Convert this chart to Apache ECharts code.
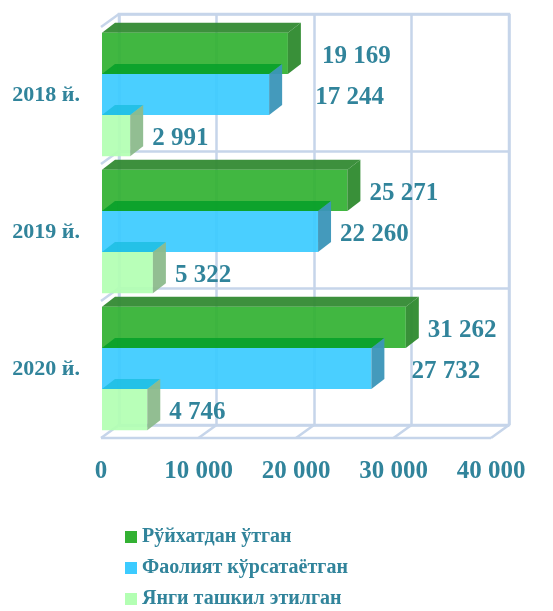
<!DOCTYPE html>
<html>
<head>
<meta charset="utf-8">
<script src="https://cdn.jsdelivr.net/npm/echarts@6/dist/echarts.min.js"></script>
<style>
  html, body { margin: 0; padding: 0; background: #fff; }
  #chart { width: 553px; height: 611px; }
</style>
</head>
<body>
<div id="chart"></div>
<script>
// chart data
var categories = ["2018 й.", "2019 й.", "2020 й."];
var seriesNames = ["Рўйхатдан ўтган", "Фаолият кўрсатаётган", "Янги ташкил этилган"];
var registered = [19169, 25271, 31262];
var active = [17244, 22260, 27732];
var newlyCreated = [2991, 5322, 4746];
var xTicks = [0, 10000, 20000, 30000, 40000];

// look
var FONT = "Liberation Serif";
var TEXT = "#31849b";
var GRIDLINE = "#c6d5ea";
var DX = 18, DY = 13;          // depth of the floor / back wall
var BDX = 13, BDY = 10;        // depth of each bar
var BAR_FRAC = 0.3;            // bar height as part of the category band
var LABEL_GAP = 22;
// a few labels sit further out in the original
var labelNudge = { "0-0": 12, "1-0": 24, "1-2": 18 };

var barStyles = [
    { front: "#33b133", top: "#338a33", side: "#2e8a2e" },
    { front: "#3ccbff", top: "#0ba12b", side: "#3a95b8" },
    { front: "#b3ffb3", top: "#22c0e6", side: "#8cbb8c" }
];

function spaced(v) {
    return String(v).replace(/\B(?=(\d{3})+(?!\d))/g, " ");
}

// renderBar draws one 3D box per data item through the axis scales
function renderBar(slot) {
    var st = barStyles[slot];
    return function (params, api) {
        var val = api.value(0), cat = api.value(1);
        var start = api.coord([0, cat]);
        var end = api.coord([val, cat]);
        var band = api.size([0, 1])[1];
        var h = band * BAR_FRAC;
        var y = start[1] - h * 1.5 + slot * h - 1;
        var x0 = start[0] + 1, x1 = end[0];
        var nudge = labelNudge[slot + "-" + cat] || 0;
        return {
            type: "group",
            children: [
                {
                    type: "polygon",
                    shape: { points: [[x0, y], [x1, y], [x1 + BDX, y - BDY], [x0 + BDX, y - BDY]] },
                    style: { fill: st.top, opacity: 0.95 }
                },
                {
                    type: "rect",
                    shape: { x: x0, y: y, width: x1 - x0, height: h },
                    style: { fill: st.front, opacity: 0.93 }
                },
                {
                    type: "polygon",
                    shape: { points: [[x1, y], [x1 + BDX, y - BDY], [x1 + BDX, y + h - BDY], [x1, y + h]] },
                    style: { fill: st.side, opacity: 0.95 }
                },
                {
                    type: "text",
                    x: x1 + LABEL_GAP + nudge,
                    y: y + h / 2 + 3,
                    style: {
                        text: spaced(val),
                        fill: TEXT,
                        font: "bold 25px '" + FONT + "'",
                        verticalAlign: "middle",
                        align: "left"
                    }
                }
            ]
        };
    };
}

// floor: front edge plus a diagonal at each value tick
function renderFloor(params, api) {
    var v = api.value(0);
    var p = api.coord([v, categories.length - 1]);
    var band = api.size([0, 1])[1];
    var yb = p[1] + band / 2;
    var children = [{
        type: "line",
        shape: { x1: p[0], y1: yb, x2: p[0] + DX, y2: yb - DY },
        style: { stroke: GRIDLINE, lineWidth: 2.5 }
    }];
    if (params.dataIndex === 0) {
        var last = api.coord([xTicks[xTicks.length - 1], categories.length - 1]);
        children.push({
            type: "line",
            shape: { x1: p[0], y1: yb, x2: last[0], y2: yb },
            style: { stroke: GRIDLINE, lineWidth: 2.5 }
        });
    }
    return { type: "group", children: children };
}

// left wall: a diagonal at the top of each category band
function renderWall(params, api) {
    var cat = api.value(1);
    var p = api.coord([0, cat]);
    var band = api.size([0, 1])[1];
    var yt = p[1] - band / 2;
    return {
        type: "line",
        shape: { x1: p[0], y1: yt, x2: p[0] + DX, y2: yt - DY },
        style: { stroke: GRIDLINE, lineWidth: 2.5 }
    };
}

function toItems(values) {
    return values.map(function (v, i) { return [v, i]; });
}

var chart = echarts.init(document.getElementById("chart"));

chart.setOption({
    animation: false,
    legend: {
        orient: "vertical",
        left: 120,
        top: 522,
        height: 120,
        icon: "rect",
        itemWidth: 12,
        itemHeight: 12,
        itemGap: 11,
        data: seriesNames,
        textStyle: { fontFamily: FONT, fontWeight: "bold", fontSize: 20, color: TEXT }
    },
    grid: [
        { left: 101, right: 62, top: 27, bottom: 173 },
        {
            left: 119, right: 44, top: 14, bottom: 186,
            show: true, borderColor: GRIDLINE, borderWidth: 2.5
        }
    ],
    xAxis: [
        {
            gridIndex: 0, type: "value", min: 0, max: 40000, interval: 10000,
            axisLine: { show: false }, axisTick: { show: false }, splitLine: { show: false },
            axisLabel: {
                margin: 21, color: TEXT, fontFamily: FONT, fontWeight: "bold", fontSize: 25,
                formatter: spaced
            }
        },
        {
            gridIndex: 1, type: "value", min: 0, max: 40000, interval: 10000,
            axisLine: { show: false }, axisTick: { show: false }, axisLabel: { show: false },
            splitLine: { show: true, lineStyle: { color: GRIDLINE, width: 2.5 } }
        }
    ],
    yAxis: [
        {
            gridIndex: 0, type: "category", data: categories, inverse: true,
            axisLine: { show: false }, axisTick: { show: false }, splitLine: { show: false },
            axisLabel: {
                margin: 21, color: TEXT, fontFamily: FONT, fontWeight: "bold", fontSize: 22
            }
        },
        {
            gridIndex: 1, type: "category", data: categories, inverse: true,
            axisLine: { show: false }, axisTick: { show: false }, axisLabel: { show: false },
            splitLine: { show: true, lineStyle: { color: GRIDLINE, width: 2.5 } }
        }
    ],
    series: [
        {
            type: "custom", name: "floor", xAxisIndex: 0, yAxisIndex: 0, z: 1,
            silent: true, renderItem: renderFloor,
            data: xTicks.map(function (v) { return [v, categories.length - 1]; })
        },
        {
            type: "custom", name: "wall", xAxisIndex: 0, yAxisIndex: 0, z: 1,
            silent: true, renderItem: renderWall,
            data: toItems([0, 0, 0])
        },
        {
            type: "custom", name: seriesNames[0], xAxisIndex: 0, yAxisIndex: 0, z: 2,
            itemStyle: { color: barStyles[0].front },
            renderItem: renderBar(0), data: toItems(registered)
        },
        {
            type: "custom", name: seriesNames[1], xAxisIndex: 0, yAxisIndex: 0, z: 3,
            itemStyle: { color: barStyles[1].front },
            renderItem: renderBar(1), data: toItems(active)
        },
        {
            type: "custom", name: seriesNames[2], xAxisIndex: 0, yAxisIndex: 0, z: 4,
            itemStyle: { color: barStyles[2].front },
            renderItem: renderBar(2), data: toItems(newlyCreated)
        }
    ]
});
</script>
</body>
</html>
